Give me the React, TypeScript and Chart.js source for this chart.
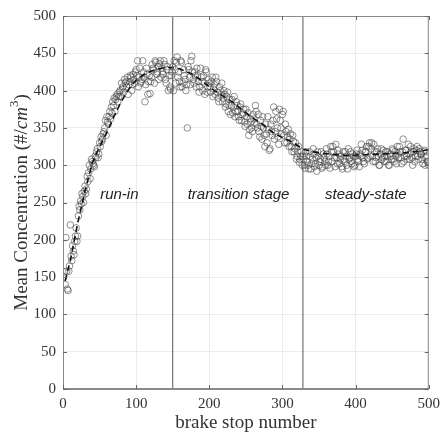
import React, { useEffect, useRef } from "react";
import { Chart, registerables } from "chart.js";

Chart.register(...registerables);

// Measured concentrations at even brake stops (2, 4, ..., 500)
const evenStopValues = [
  157, 203, 134, 158, 220, 172, 185, 198, 216, 205, 245, 252, 262, 250, 272, 268, 278, 300, 295, 305,
  300, 312, 318, 310, 330, 338, 335, 345, 360, 365, 355, 372, 378, 385, 390, 388, 395, 392, 400, 410,
  405, 415, 412, 418, 408, 420, 400, 422, 410, 428, 440, 418, 410, 415, 425, 385, 430, 395, 420, 412,
  435, 428, 440, 422, 432, 436, 418, 425, 440, 415, 428, 400, 405, 420,
  432, 440, 410, 445, 425, 405, 438, 410, 420, 400, 350, 428, 408, 446, 415, 425, 405, 420, 398, 430,
  412, 420, 395, 425, 405, 410, 398, 418, 402, 395, 412, 390, 405, 395, 385, 400, 378, 392, 372, 388,
  380, 370, 392, 372, 380, 365, 378, 360, 370, 358, 375, 355, 340, 362, 350, 368, 356, 372, 350, 345,
  360, 335, 350, 325, 342, 365, 320, 355, 340, 378, 345, 362, 338, 375, 350, 368, 340, 355, 330, 348,
  335, 325, 340, 318, 330, 312, 325, 308, 318, 312,
  300, 318, 305, 295, 312, 302, 322, 298, 310, 318, 300, 308, 296, 315, 305, 322, 300, 312, 325, 305,
  318, 298, 310, 320, 302, 312, 295, 308, 318, 300, 322, 310, 305, 315, 298, 312, 320, 305, 315, 328,
  310, 302, 318, 308, 325, 312, 330, 305, 318, 310, 322, 300, 315, 308, 320, 312, 305, 318, 300, 312,
  322, 308, 318, 302, 315, 325, 310, 318, 305, 320, 312, 328, 308, 318, 300, 322, 312, 325, 308, 318,
  315, 302, 320, 310, 305, 300,
];

// Measured concentrations at odd brake stops (1, 3, ..., 499)
const oddStopValues = [
  150, 140, 158, 132, 165, 178, 192, 180, 205, 198, 232, 240, 248, 258, 265, 262, 285, 290, 282, 308,
  302, 298, 310, 322, 315, 325, 332, 342, 350, 340, 358, 365, 362, 370, 380, 372, 392, 385, 398, 392,
  402, 398, 410, 405, 395, 412, 418, 408, 415, 425, 420, 405, 430, 412, 440, 418, 408, 422, 412, 396,
  418, 430, 410, 438, 425, 415, 440, 430, 422, 435, 410, 432, 420, 402, 425,
  400, 428, 438, 418, 412, 440, 405, 428, 415, 408, 432, 418, 440, 425, 410, 420, 430, 412, 405, 418,
  400, 410, 428, 398, 415, 405, 412, 392, 408, 418, 398, 385, 400, 410, 390, 395, 382, 398, 380, 368,
  388, 378, 365, 385, 372, 360, 382, 368, 375, 352, 365, 370, 348, 358, 345, 362, 380, 355, 368, 338,
  352, 365, 340, 355, 330, 348, 322, 345, 360, 335, 372, 350, 328, 360, 342, 372, 330, 345, 338, 325,
  342, 318, 332, 322, 308, 318, 304, 312, 300,
  308, 296, 312, 300, 318, 295, 308, 315, 302, 292, 312, 305, 318, 298, 310, 300, 315, 305, 296, 318,
  325, 310, 328, 302, 315, 308, 298, 318, 305, 312, 295, 308, 318, 302, 312, 300, 315, 308, 298, 312,
  320, 305, 318, 325, 310, 330, 322, 312, 328, 305, 318, 312, 300, 322, 310, 305, 318, 312, 300, 315,
  308, 320, 305, 312, 325, 310, 318, 302, 335, 312, 320, 308, 315, 325, 310, 318, 305, 320, 312, 322,
  315, 308, 318, 300, 312, 305,
];

// Dashed trend line
const fitStops = [3, 10, 20, 30, 40, 50, 60, 70, 80, 90, 100, 110, 120, 130, 140, 150, 160, 170, 180, 190,
  200, 210, 220, 233, 240, 250, 260, 274, 280, 290, 300, 314, 327, 341, 364, 386, 410, 436, 450, 470, 490, 500];
const fitValues = [145, 172, 222, 265, 303, 325, 344, 366, 386, 402, 414, 421, 426, 429, 431, 431, 429, 425, 420, 413,
  405, 398, 392, 384, 378, 370, 363, 354, 349, 342, 337, 331, 322, 318, 315, 313, 314, 315, 316, 317, 319, 321];

// Stage boundaries and labels
const stageBoundaries = [150, 328];
const stageLabels = ["run-in", "transition stage", "steady-state"];
const stageLabelX = [77, 240, 414];
const stageLabelY = 260;

const xTicks = [0, 100, 200, 300, 400, 500];
const yTicks = [0, 50, 100, 150, 200, 250, 300, 350, 400, 450, 500];

export default function App() {
  const ref = useRef<HTMLCanvasElement | null>(null);

  useEffect(() => {
    const scatter = [
      ...oddStopValues.map((v, i) => ({ x: 2 * i + 1, y: v })),
      ...evenStopValues.map((v, i) => ({ x: 2 * i + 2, y: v })),
    ];
    const fit = fitStops.map((s, i) => ({ x: s, y: fitValues[i] }));
    const vlines = stageBoundaries.map((b) => ({
      type: "line" as const,
      data: [{ x: b, y: 0 }, { x: b, y: 500 }],
      borderColor: "#555",
      borderWidth: 1,
      pointRadius: 0,
      showLine: true,
      order: 0,
    }));

    const serif = "'Liberation Serif', serif";

    const boxPlugin = {
      id: "boxAndLabels",
      afterDraw(chart: any) {
        const { ctx, chartArea: a, scales } = chart;
        ctx.save();
        ctx.strokeStyle = "#8a8a8a";
        ctx.lineWidth = 1;
        ctx.strokeRect(a.left + 0.5, a.top + 0.5, a.right - a.left - 1, a.bottom - a.top - 1);
        ctx.strokeStyle = "#666";
        for (const t of xTicks) {
          const px = Math.round(scales.x.getPixelForValue(t)) + 0.5;
          ctx.beginPath();
          ctx.moveTo(px, a.bottom); ctx.lineTo(px, a.bottom - 4);
          ctx.moveTo(px, a.top); ctx.lineTo(px, a.top + 4);
          ctx.stroke();
        }
        for (const t of yTicks) {
          const py = Math.round(scales.y.getPixelForValue(t)) + 0.5;
          ctx.beginPath();
          ctx.moveTo(a.left, py); ctx.lineTo(a.left + 4, py);
          ctx.moveTo(a.right, py); ctx.lineTo(a.right - 4, py);
          ctx.stroke();
        }
        // stage labels
        ctx.fillStyle = "#222";
        ctx.font = "italic 15px 'Liberation Sans', Arial, sans-serif";
        ctx.textAlign = "center";
        ctx.textBaseline = "middle";
        stageLabels.forEach((s, i) => {
          ctx.fillText(s, scales.x.getPixelForValue(stageLabelX[i]), scales.y.getPixelForValue(stageLabelY));
        });
        // y-axis title with math-style unit
        const parts = [
          { t: "Mean Concentration (#/", f: `19px ${serif}`, dy: 0 },
          { t: "cm", f: `italic 19px ${serif}`, dy: 0 },
          { t: "3", f: `13px ${serif}`, dy: -7 },
          { t: ")", f: `19px ${serif}`, dy: 0 },
        ];
        let total = 0;
        const widths = parts.map((p) => { ctx.font = p.f; const w = ctx.measureText(p.t).width; total += w; return w; });
        ctx.translate(22, (a.top + a.bottom) / 2);
        ctx.rotate(-Math.PI / 2);
        ctx.fillStyle = "#333";
        ctx.textAlign = "left";
        ctx.textBaseline = "middle";
        let x = -total / 2;
        parts.forEach((p, i) => {
          ctx.font = p.f;
          ctx.fillText(p.t, x, p.dy);
          x += widths[i];
        });
        ctx.restore();
      },
    };

    const chart = new Chart(ref.current as HTMLCanvasElement, {
      type: "scatter",
      data: {
        datasets: [
          ...vlines,
          {
            type: "line" as const,
            data: fit,
            borderColor: "#111",
            borderWidth: 1.6,
            borderDash: [6, 4],
            pointRadius: 0,
            showLine: true,
            order: 1,
          },
          {
            data: scatter,
            pointStyle: "circle",
            pointRadius: 3.3,
            backgroundColor: "rgba(0,0,0,0)",
            borderColor: "rgba(70,70,70,0.75)",
            borderWidth: 0.8,
            order: 2,
          },
        ] as any,
      },
      options: {
        responsive: false,
        animation: false,
        layout: { padding: { top: 13, right: 12, left: 0, bottom: 0 } },
        plugins: { legend: { display: false }, tooltip: { enabled: false } },
        scales: {
          x: {
            type: "linear",
            min: 0,
            max: 500,
            afterBuildTicks: (s: any) => { s.ticks = xTicks.map((v) => ({ value: v })); },
            afterFit: (s: any) => { s.height = 47; },
            ticks: { color: "#333", padding: 6, font: { family: serif, size: 15 } },
            grid: { color: "#ececec", drawTicks: false },
            border: { color: "#8a8a8a" },
            title: {
              display: true,
              text: "brake stop number",
              color: "#333",
              padding: { top: 0, bottom: 2 },
              font: { family: serif, size: 19 },
            },
          },
          y: {
            type: "linear",
            min: 0,
            max: 500,
            afterBuildTicks: (s: any) => { s.ticks = yTicks.map((v) => ({ value: v })); },
            afterFit: (s: any) => { s.width = 63; },
            ticks: { color: "#333", padding: 7, font: { family: serif, size: 15 } },
            grid: { color: "#ececec", drawTicks: false },
            border: { color: "#8a8a8a" },
            title: { display: false },
          },
        },
      },
      plugins: [boxPlugin],
    });
    return () => chart.destroy();
  }, []);

  return (
    <div style={{ position: "fixed", left: 0, top: 0, width: 446, height: 436, background: "#fff" }}>
      <canvas ref={ref} width={446} height={436} />
    </div>
  );
}
